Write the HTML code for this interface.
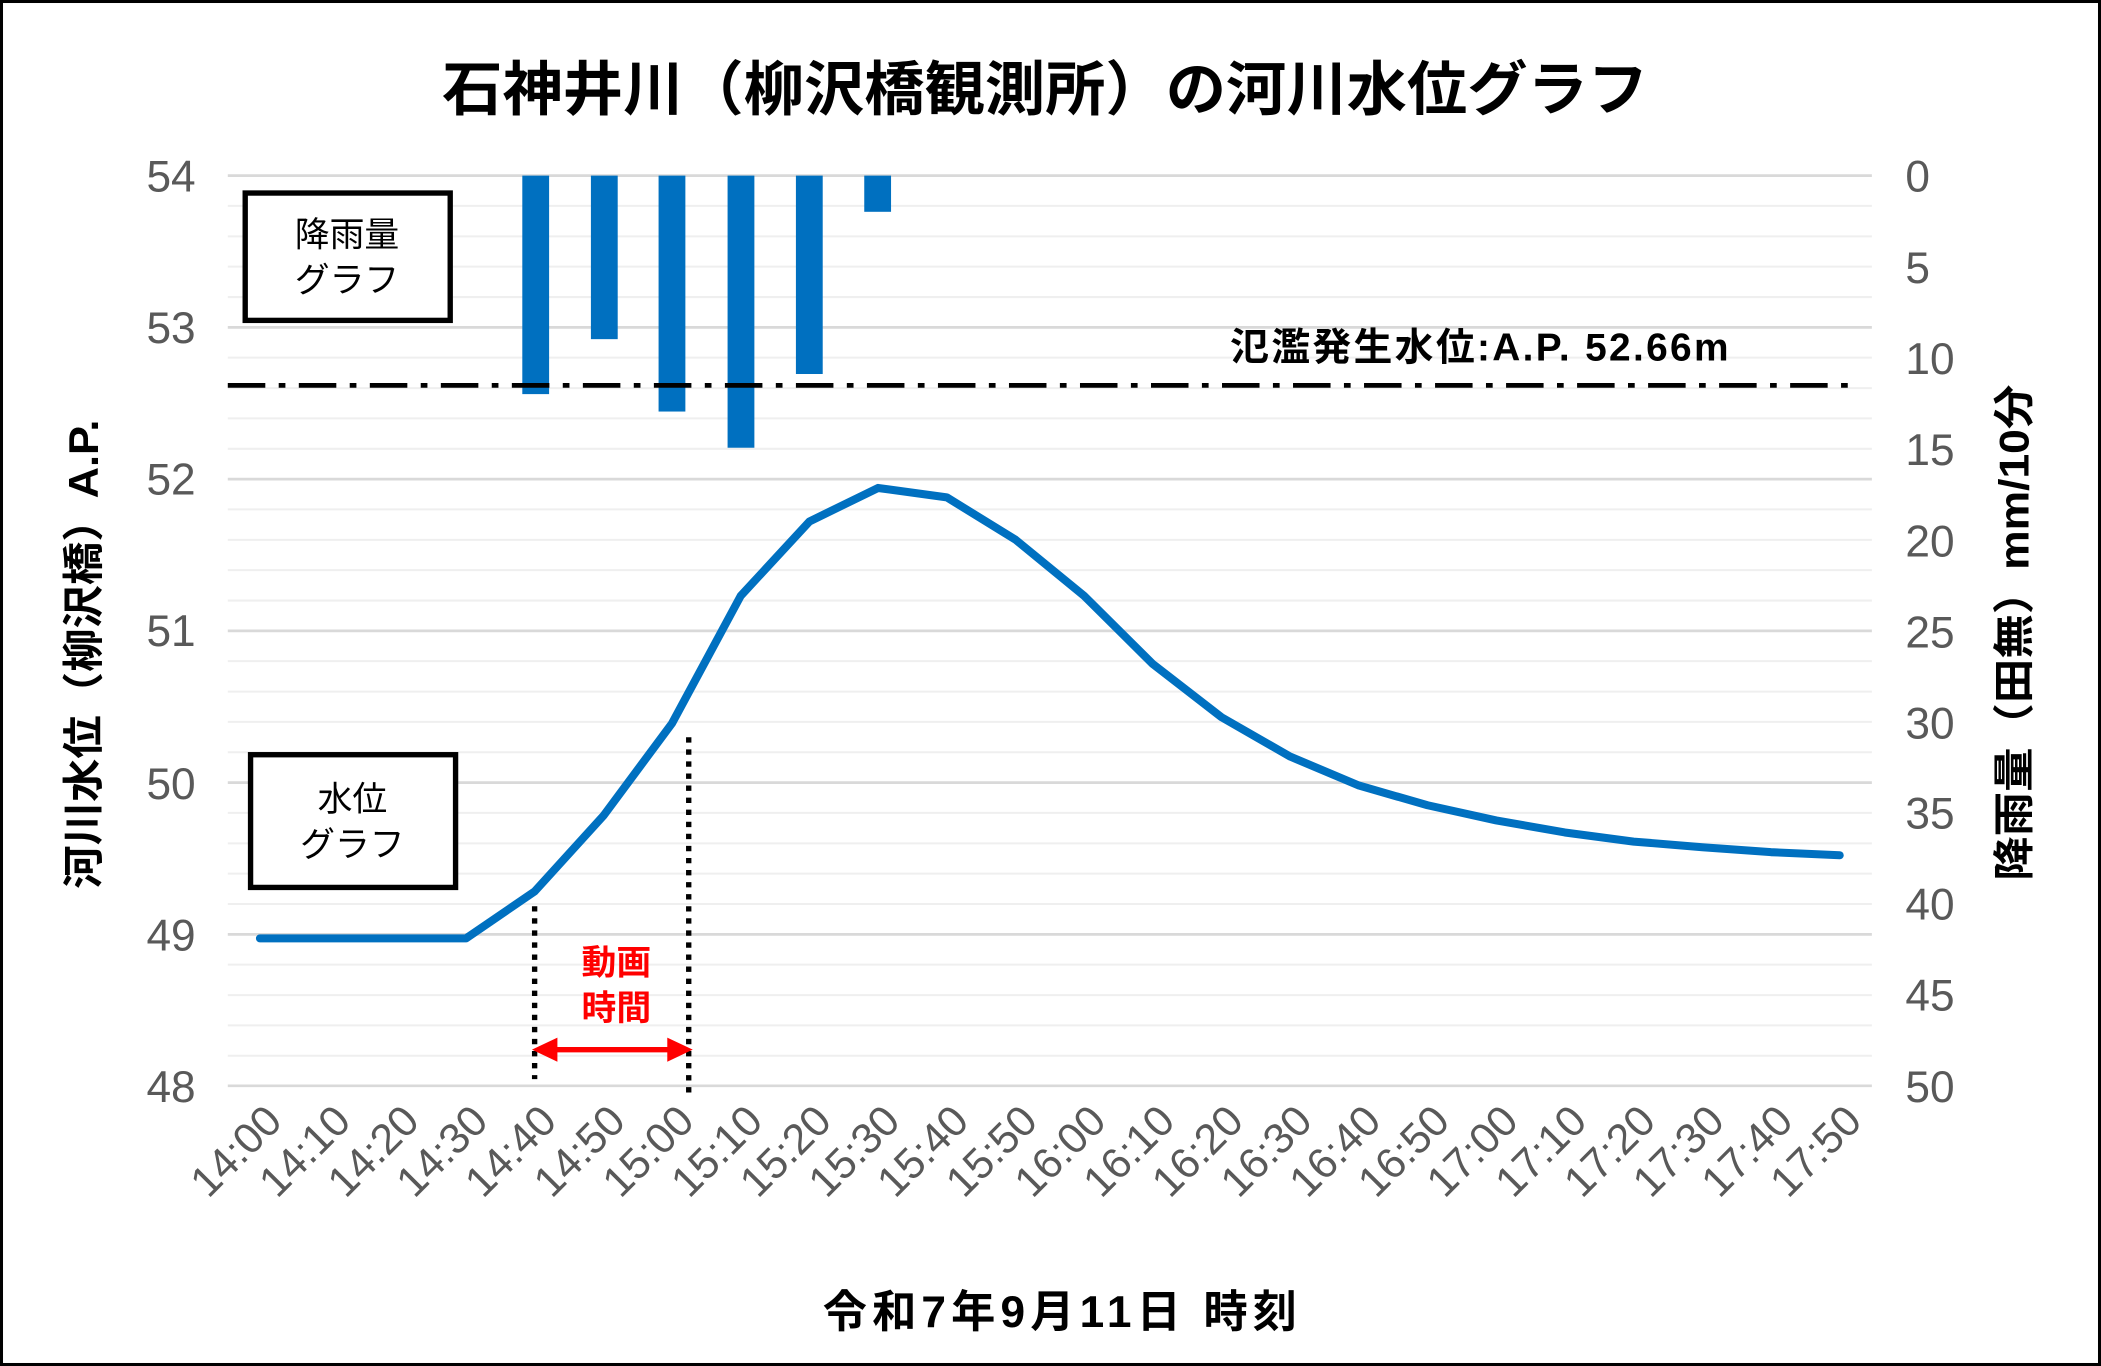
<!DOCTYPE html>
<html><head><meta charset="utf-8"><style>
html,body{margin:0;padding:0;background:#fff}
svg{display:block}
text{font-family:"Liberation Sans","Noto Sans CJK JP",sans-serif}
</style></head><body>
<svg width="2101" height="1366" viewBox="0 0 1568 1019" preserveAspectRatio="none" xmlns="http://www.w3.org/2000/svg">
<rect x="1" y="1" width="1566" height="1017" fill="#fff" stroke="#000" stroke-width="2.5"/>
<text x="780" y="82" font-size="44" text-anchor="middle" font-weight="bold" fill="#000" textLength="900" lengthAdjust="spacingAndGlyphs">石神井川（柳沢橋観測所）の河川水位グラフ</text>
<g stroke="#efefef" stroke-width="1.5">
<line x1="170" x2="1397" y1="153.6" y2="153.6"/><line x1="170" x2="1397" y1="176.3" y2="176.3"/><line x1="170" x2="1397" y1="198.9" y2="198.9"/><line x1="170" x2="1397" y1="221.6" y2="221.6"/>
<line x1="170" x2="1397" y1="266.8" y2="266.8"/><line x1="170" x2="1397" y1="289.5" y2="289.5"/><line x1="170" x2="1397" y1="312.1" y2="312.1"/><line x1="170" x2="1397" y1="334.8" y2="334.8"/>
<line x1="170" x2="1397" y1="380" y2="380"/><line x1="170" x2="1397" y1="402.7" y2="402.7"/><line x1="170" x2="1397" y1="425.3" y2="425.3"/><line x1="170" x2="1397" y1="448" y2="448"/>
<line x1="170" x2="1397" y1="493.2" y2="493.2"/><line x1="170" x2="1397" y1="515.9" y2="515.9"/><line x1="170" x2="1397" y1="538.5" y2="538.5"/><line x1="170" x2="1397" y1="561.2" y2="561.2"/>
<line x1="170" x2="1397" y1="606.4" y2="606.4"/><line x1="170" x2="1397" y1="629.1" y2="629.1"/><line x1="170" x2="1397" y1="651.7" y2="651.7"/><line x1="170" x2="1397" y1="674.4" y2="674.4"/>
<line x1="170" x2="1397" y1="719.6" y2="719.6"/><line x1="170" x2="1397" y1="742.3" y2="742.3"/><line x1="170" x2="1397" y1="764.9" y2="764.9"/><line x1="170" x2="1397" y1="787.6" y2="787.6"/>
</g>
<g stroke="#d9d9d9" stroke-width="2">
<line x1="170" x2="1397" y1="131" y2="131"/><line x1="170" x2="1397" y1="244.2" y2="244.2"/><line x1="170" x2="1397" y1="357.4" y2="357.4"/><line x1="170" x2="1397" y1="470.6" y2="470.6"/><line x1="170" x2="1397" y1="583.8" y2="583.8"/><line x1="170" x2="1397" y1="697" y2="697"/><line x1="170" x2="1397" y1="810" y2="810"/>
</g>
<g font-size="33" fill="#595959" text-anchor="end">
<text x="146" y="143">54</text><text x="146" y="256">53</text><text x="146" y="369">52</text><text x="146" y="482">51</text><text x="146" y="596">50</text><text x="146" y="709">49</text><text x="146" y="822">48</text>
</g>
<g font-size="33" fill="#595959" text-anchor="start">
<text x="1422" y="143">0</text><text x="1422" y="211">5</text><text x="1422" y="279">10</text><text x="1422" y="347">15</text><text x="1422" y="415">20</text><text x="1422" y="483">25</text><text x="1422" y="551">30</text><text x="1422" y="618">35</text><text x="1422" y="686">40</text><text x="1422" y="754">45</text><text x="1422" y="822">50</text>
</g>
<g fill="#0070c0">
<rect x="389.8" y="131" width="20" height="163"/>
<rect x="441" y="131" width="20" height="122"/>
<rect x="491.5" y="131" width="20" height="176"/>
<rect x="543" y="131" width="20" height="203"/>
<rect x="594" y="131" width="20" height="148"/>
<rect x="645" y="131" width="20" height="27"/>
</g>
<line x1="170" x2="1385" y1="287.5" y2="287.5" stroke="#000" stroke-width="3.5" stroke-dasharray="28,10,5,10"/>
<text x="918" y="269" font-size="29" font-weight="bold" fill="#000" textLength="372" lengthAdjust="spacing">氾濫発生水位:A.P.  52.66m</text>
<polyline fill="none" stroke="#0070c0" stroke-width="6" stroke-linejoin="round" stroke-linecap="round" points="194,700 245.3,700 296.5,700 347.8,700 399,665 450.3,608.6 501.6,539.5 552.8,444.5 604.1,389 655.3,364 706.6,371 757.9,402.6 809.1,444.5 860.4,495.4 911.6,535 962.9,564.4 1014.2,586 1065.4,600.7 1116.7,612 1167.9,621 1219.2,627.8 1270.5,632 1321.7,635.7 1373,638"/>
<g stroke="#000" stroke-width="4" stroke-dasharray="4,5">
<line x1="399" x2="399" y1="676" y2="805"/><line x1="514" x2="514" y1="550" y2="815"/>
</g>
<line x1="412" x2="501" y1="783" y2="783" stroke="#f00" stroke-width="4"/>
<polygon points="397,783 416,774 416,792" fill="#f00"/>
<polygon points="517,783 498,774 498,792" fill="#f00"/>
<text x="460" y="727" font-size="26" font-weight="bold" fill="#f00" text-anchor="middle">動画</text>
<text x="460" y="761" font-size="26" font-weight="bold" fill="#f00" text-anchor="middle">時間</text>
<rect x="183" y="144" width="153" height="95" fill="#fff" stroke="#000" stroke-width="4"/>
<text x="259" y="184" font-size="26" text-anchor="middle" fill="#000">降雨量</text>
<text x="259" y="218" font-size="26" text-anchor="middle" fill="#000">グラフ</text>
<rect x="187" y="563" width="153" height="99" fill="#fff" stroke="#000" stroke-width="4"/>
<text x="263" y="605" font-size="26" text-anchor="middle" fill="#000">水位</text>
<text x="263" y="639" font-size="26" text-anchor="middle" fill="#000">グラフ</text>
<g font-size="32" fill="#595959" text-anchor="end">
<text transform="translate(212,838) rotate(-45)">14:00</text><text transform="translate(263.3,838) rotate(-45)">14:10</text><text transform="translate(314.5,838) rotate(-45)">14:20</text><text transform="translate(365.8,838) rotate(-45)">14:30</text><text transform="translate(417,838) rotate(-45)">14:40</text><text transform="translate(468.3,838) rotate(-45)">14:50</text><text transform="translate(519.6,838) rotate(-45)">15:00</text><text transform="translate(570.8,838) rotate(-45)">15:10</text><text transform="translate(622.1,838) rotate(-45)">15:20</text><text transform="translate(673.3,838) rotate(-45)">15:30</text><text transform="translate(724.6,838) rotate(-45)">15:40</text><text transform="translate(775.9,838) rotate(-45)">15:50</text><text transform="translate(827.1,838) rotate(-45)">16:00</text><text transform="translate(878.4,838) rotate(-45)">16:10</text><text transform="translate(929.6,838) rotate(-45)">16:20</text><text transform="translate(980.9,838) rotate(-45)">16:30</text><text transform="translate(1032.2,838) rotate(-45)">16:40</text><text transform="translate(1083.4,838) rotate(-45)">16:50</text><text transform="translate(1134.7,838) rotate(-45)">17:00</text><text transform="translate(1185.9,838) rotate(-45)">17:10</text><text transform="translate(1237.2,838) rotate(-45)">17:20</text><text transform="translate(1288.5,838) rotate(-45)">17:30</text><text transform="translate(1339.7,838) rotate(-45)">17:40</text><text transform="translate(1391,838) rotate(-45)">17:50</text>
</g>
<text x="791" y="990" font-size="33" font-weight="bold" text-anchor="middle" fill="#000" textLength="354" lengthAdjust="spacing">令和7年9月11日  時刻</text>
<text transform="translate(73,488) rotate(-90)" font-size="31" font-weight="bold" text-anchor="middle" fill="#000" textLength="350" lengthAdjust="spacingAndGlyphs">河川水位（柳沢橋）A.P.</text>
<text transform="translate(1514,472) rotate(-90)" font-size="31" font-weight="bold" text-anchor="middle" fill="#000" textLength="370" lengthAdjust="spacingAndGlyphs">降雨量（田無）mm/10分</text>
</svg>
</body></html>
